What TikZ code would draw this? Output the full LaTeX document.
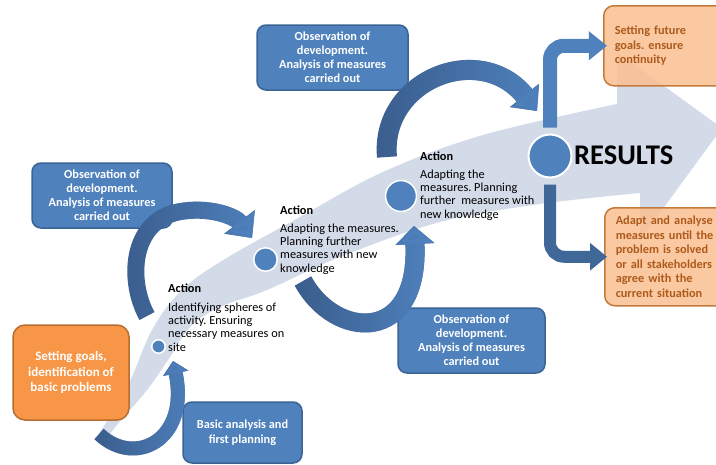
\documentclass[tikz,border=0pt]{standalone}
\usepackage{fontspec}
\setmainfont{Carlito}
\usetikzlibrary{arrows.meta,fadings}
\frenchspacing

\definecolor{bandblue}{HTML}{D3DAE8}
\definecolor{boxblue}{HTML}{4F81BD}
\definecolor{boxline}{HTML}{3A6396}
\definecolor{arcdark}{HTML}{3A5D8C}
\definecolor{arclight}{HTML}{4F81BD}
\definecolor{resdown}{HTML}{3F6798}
\definecolor{goalorange}{HTML}{F79646}
\definecolor{goalline}{HTML}{B66D31}
\definecolor{resorange}{HTML}{FAC090}
\definecolor{resline}{HTML}{C47A3C}
\definecolor{restext}{HTML}{AD5A1C}

\tikzset{
  obsbox/.style={draw=boxline, line width=1.5pt, fill=boxblue, rounded corners=9pt,
    text=white, align=center, inner sep=0pt,
    font=\bfseries\fontsize{12.3}{14}\selectfont},
  goalbox/.style={draw=goalline, line width=1.5pt, fill=goalorange, rounded corners=12pt,
    text=white, align=center, inner sep=0pt,
    font=\bfseries\fontsize{13}{15.5}\selectfont},
  resbox/.style={draw=resline, line width=1.5pt, fill=resorange, fill opacity=0.85,
    text opacity=1, rounded corners=10pt, text=restext, align=left, anchor=north west,
    inner xsep=11pt, inner ysep=0pt, font=\bfseries\fontsize{12.3}{14.6}\selectfont},
  looparrow/.style={draw=arcdark, line width=#1,
    postaction={draw=arclight, path fading=west}},
  dot/.style={circle, fill=boxblue, draw=white, line width=1.5pt, inner sep=0pt},
  acthead/.style={anchor=base west, inner sep=0pt,
    font=\bfseries\fontsize{12.3}{13}\selectfont},
  acttext/.style={anchor=north west, inner sep=0pt, align=left,
    font=\fontsize{12.3}{13.2}\selectfont}
}

\begin{document}
\begin{tikzpicture}[x=1pt, y=-1pt]
    \useasboundingbox (0,0) rectangle (716,464);
    \clip (0,0) rectangle (716,464);

    % big arrow in the background
    \fill[bandblue] plot[smooth, tension=0.6] coordinates {(97,437) (128,385) (152,330) (180,292) (220,262) (300,217) (383,172) (483,135) (617,104)}
        -- (617,52) -- (722,128) -- (640,240)
        -- plot[smooth, tension=0.6] coordinates {(640,193) (540,204) (440,222) (340,257) (267,290) (220,307) (190,327) (170,357) (147,390) (113,430) (104,446)} -- cycle;

    % boxes
    \node[obsbox, minimum width=140pt, minimum height=65pt] (obsleft) at (102,195.5) {Observation of\\development.\\Analysis of measures\\carried out};
    \node[obsbox, minimum width=151pt, minimum height=65pt] (obstop) at (332.5,57.5) {Observation of\\development.\\Analysis of measures\\carried out};
    \node[obsbox, minimum width=147pt, minimum height=65pt] (obsbot) at (471.5,340.5) {Observation of\\development.\\Analysis of measures\\carried out};
    \node[obsbox, minimum width=119pt, minimum height=61pt, font=\bfseries\fontsize{12.3}{15}\selectfont] (basic) at (242.5,432.5) {Basic analysis and\\first planning};
    \node[goalbox, minimum width=116pt, minimum height=95pt] (goals) at (71,372.5) {Setting goals,\\identification of\\basic problems};
    \node[resbox, text width=120pt, minimum height=80pt] (future) at (603,5) {Setting future\\goals. ensure\\continuity};
    \node[resbox, text width=120pt, minimum height=98pt] (adapt) at (604,207) {Adapt and analyse\\measures until the\\problem is solved\\or all stakeholders\\agree with the\\current situation};

    % curved arrows
    \coordinate (tailA) at (99,434);
    \coordinate (tipA) at (173,361);
    \coordinate (tailB) at (147,316);
    \coordinate (tipB) at (252,238);
    \coordinate (tailC) at (303,281);
    \coordinate (tipC) at (414,226);
    \coordinate (tailD) at (387,157);
    \coordinate (tipD) at (537,111);

    \draw[looparrow=14pt, -{Triangle[width=0pt 1.8, length=0pt 0.9]}] (tailA) .. controls (135,468) and (190,440) .. (tipA);
    \draw[looparrow=17pt, -{Triangle[width=0pt 2.2, length=0pt 1.2]}] (tailB) .. controls (128,282) and (130,222) .. (178,212) .. controls (208,206) and (235,216) .. (tipB);
    \draw[looparrow=19pt, -{Triangle[width=0pt 2, length=0pt 0.95]}] (tailC) .. controls (335,340) and (420,345) .. (tipC);
    \draw[looparrow=20pt, -{Triangle[width=0pt 1.8, length=0pt 1]}] (tailD) .. controls (380,80) and (480,40) .. (tipD);

    % circles on the band
    \node[dot, minimum size=13.5pt] (dotA) at (158.5,346.5) {};
    \node[dot, minimum size=23.5pt] (dotB) at (265.5,259.5) {};
    \node[dot, minimum size=31pt] (dotC) at (401,196) {};
    \node[dot, minimum size=43pt, line width=2pt] (res) at (550,156) {};

    % results arrows
    \draw[arclight, line width=14pt, rounded corners=14pt, -{Triangle[width=0pt 2, length=0pt 1.3]}] ([yshift=6pt]res.north) |- ([xshift=4pt]future.west);
    \draw[resdown, line width=12pt, rounded corners=14pt, -{Triangle[width=0pt 2.2, length=0pt 1.4]}] ([yshift=-6pt]res.south) |- ([xshift=3pt]adapt.west);

    % texts
    \node[acthead] (headA) at (168,292) {Action};
    \node[acttext] (textA) at (168,302.8) {Identifying spheres of\\activity. Ensuring\\necessary measures on\\site};
    \node[acthead] (headB) at (280,214) {Action};
    \node[acttext] (textB) at (280,223.8) {Adapting the measures.\\Planning further\\measures with new\\knowledge};
    \node[acthead] (headC) at (420,160) {Action};
    \node[acttext] (textC) at (420,169.8) {Adapting the\\measures. Planning\\further~ measures with\\new knowledge};
    \node[anchor=base west, inner sep=0pt, font=\bfseries\fontsize{28.5}{28.5}\selectfont] (results) at (574,164) {RESULTS};
\end{tikzpicture}
\end{document}
